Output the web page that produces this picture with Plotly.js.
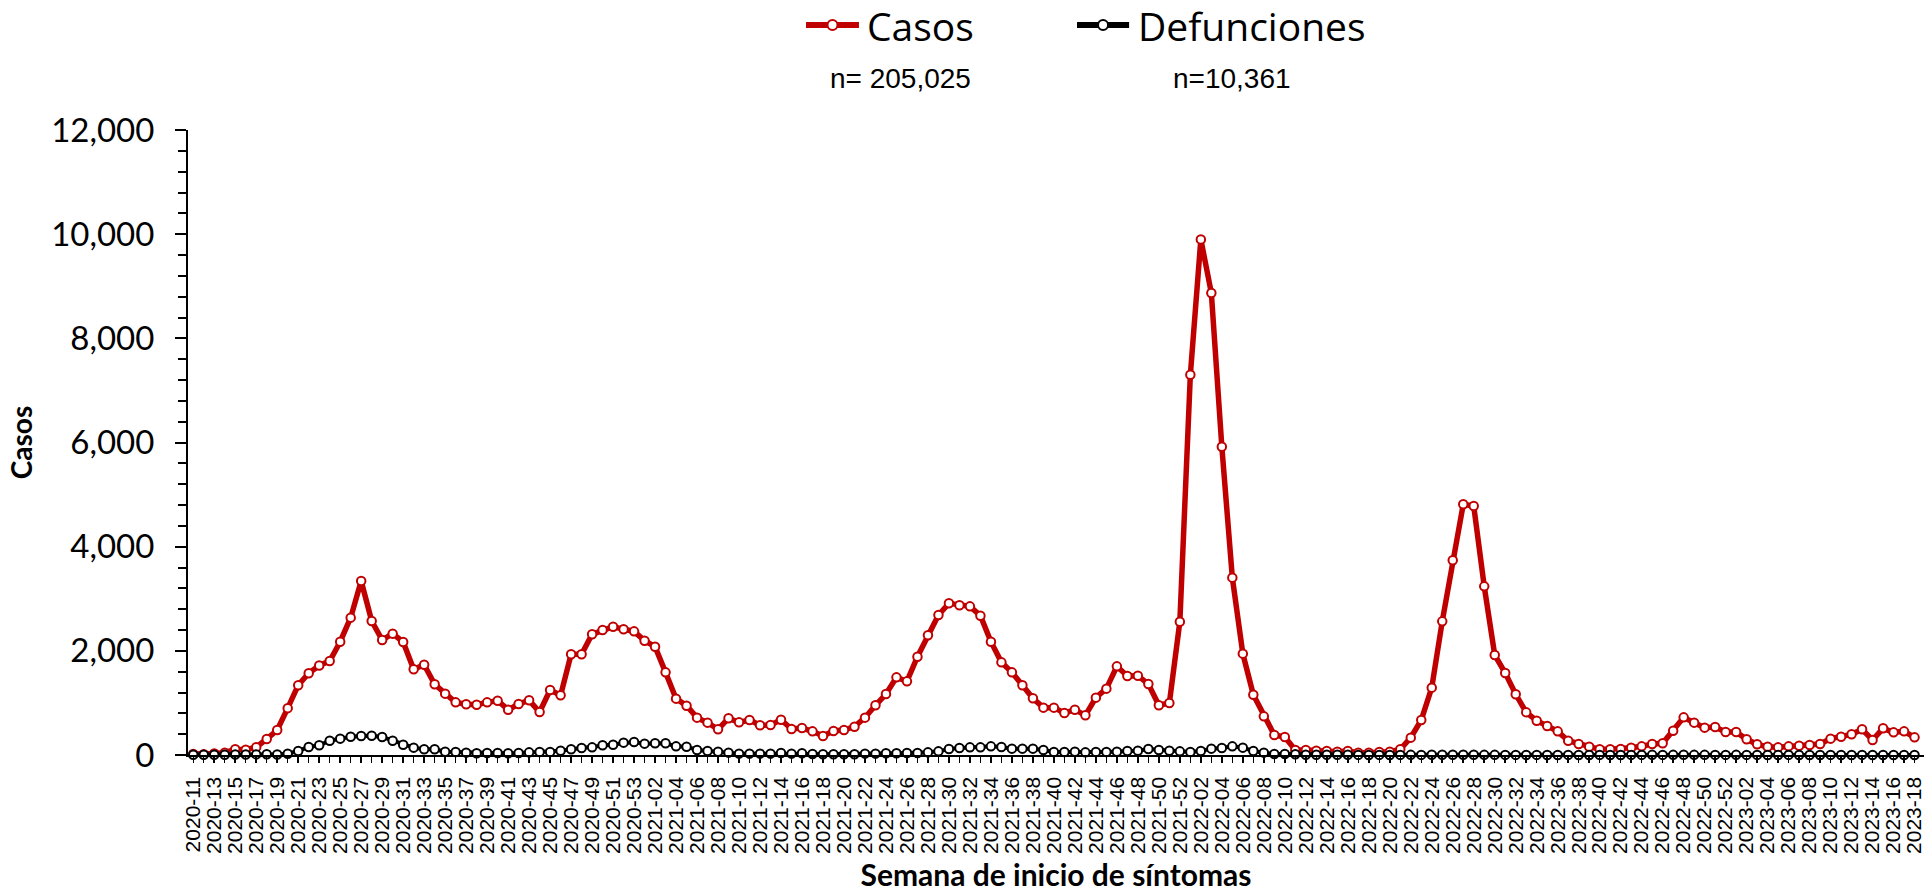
<!DOCTYPE html>
<html>
<head>
<meta charset="utf-8">
<script src="https://cdn.plot.ly/plotly-3.0.1.min.js"></script>
<style>html,body{margin:0;padding:0;background:#fff;}#chart{width:1924px;height:892px;}</style>
</head>
<body>
<div id="chart"></div>
<script>
const weeks = [
"2020-11","2020-12","2020-13","2020-14","2020-15","2020-16","2020-17","2020-18","2020-19","2020-20",
"2020-21","2020-22","2020-23","2020-24","2020-25","2020-26","2020-27","2020-28","2020-29","2020-30",
"2020-31","2020-32","2020-33","2020-34","2020-35","2020-36","2020-37","2020-38","2020-39","2020-40",
"2020-41","2020-42","2020-43","2020-44","2020-45","2020-46","2020-47","2020-48","2020-49","2020-50",
"2020-51","2020-52","2020-53",
"2021-01","2021-02","2021-03","2021-04","2021-05","2021-06","2021-07","2021-08","2021-09","2021-10",
"2021-11","2021-12","2021-13","2021-14","2021-15","2021-16","2021-17","2021-18","2021-19","2021-20",
"2021-21","2021-22","2021-23","2021-24","2021-25","2021-26","2021-27","2021-28","2021-29","2021-30",
"2021-31","2021-32","2021-33","2021-34","2021-35","2021-36","2021-37","2021-38","2021-39","2021-40",
"2021-41","2021-42","2021-43","2021-44","2021-45","2021-46","2021-47","2021-48","2021-49","2021-50",
"2021-51","2021-52",
"2022-01","2022-02","2022-03","2022-04","2022-05","2022-06","2022-07","2022-08","2022-09","2022-10",
"2022-11","2022-12","2022-13","2022-14","2022-15","2022-16","2022-17","2022-18","2022-19","2022-20",
"2022-21","2022-22","2022-23","2022-24","2022-25","2022-26","2022-27","2022-28","2022-29","2022-30",
"2022-31","2022-32","2022-33","2022-34","2022-35","2022-36","2022-37","2022-38","2022-39","2022-40",
"2022-41","2022-42","2022-43","2022-44","2022-45","2022-46","2022-47","2022-48","2022-49","2022-50",
"2022-51","2022-52",
"2023-01","2023-02","2023-03","2023-04","2023-05","2023-06","2023-07","2023-08","2023-09","2023-10",
"2023-11","2023-12","2023-13","2023-14","2023-15","2023-16","2023-17","2023-18"
];

const casos = [
20,15,30,45,110,100,150,307,480,900,
1340,1570,1720,1805,2175,2637,3340,2573,2208,2330,
2170,1645,1734,1357,1178,1011,973,966,1011,1043,
870,979,1050,826,1248,1146,1933,1933,2317,2400,
2464,2413,2374,
2195,2080,1587,1082,947,717,621,493,704,627,
672,570,576,678,499,518,454,365,461,480,
544,717,954,1171,1491,1414,1888,2298,2688,2912,
2874,2854,2675,2176,1779,1587,1338,1088,909,909,
806,870,762,1101,1274,1702,1517,1523,1363,954,
998,2560,
7300,9900,8870,5920,3405,1946,1158,742,384,346,
96,96,83,77,64,77,45,45,58,64,
109,333,672,1293,2566,3738,4813,4781,3238,1920,
1574,1165,819,659,557,454,275,211,160,109,
109,115,141,166,211,224,467,723,621,525,
538,442,
442,301,205,160,147,166,179,192,211,314,
352,397,493,288,512,435,454,339
];

const defunciones = [
5,5,5,5,8,10,12,15,10,25,
77,154,186,275,314,352,365,371,346,275,
198,141,109,109,64,58,45,32,38,38,
32,38,51,58,58,83,109,134,147,186,
198,237,250,
218,224,224,166,160,96,77,64,45,26,
26,26,26,38,26,32,20,13,13,13,
13,26,26,32,32,38,38,51,70,115,
134,147,147,166,154,122,122,122,96,58,
58,64,51,58,58,64,77,83,115,96,
83,70,
58,77,122,134,166,141,77,45,20,20,
13,5,5,5,5,5,2,1,2,1,
2,3,2,4,5,6,5,4,3,3,
2,2,1,2,1,1,2,1,1,2,
1,1,2,2,3,2,3,4,3,3,
2,2,
3,2,2,1,1,2,1,1,1,2,
1,1,2,1,1,1,1,1
];

const seriesNames = ["Casos", "Defunciones"];
const seriesColors = ["#C00000", "#000000"];
const totals = ["n= 205,025", "n=10,361"];
const yTickVals = [0, 2000, 4000, 6000, 8000, 10000, 12000];

const tickText = weeks.map((w, i) => (i % 2 === 0 ? w : ""));

const traces = [
  {
    x: weeks, y: casos, name: seriesNames[0], type: "scatter", mode: "lines+markers",
    cliponaxis: false, showlegend: false,
    line: {color: seriesColors[0], width: 5.5},
    marker: {symbol: "circle", size: 8.5, color: "#ffffff", line: {color: seriesColors[0], width: 2}}
  },
  {
    x: weeks, y: defunciones, name: seriesNames[1], type: "scatter", mode: "lines+markers",
    cliponaxis: false, showlegend: false,
    line: {color: seriesColors[1], width: 4},
    marker: {symbol: "circle", size: 8.5, color: "#ffffff", line: {color: seriesColors[1], width: 2}}
  }
];

/* custom legend (line + marker + label), positioned in paper coordinates */
const legY = 1.168;
const legItems = [
  {x0: 0.3560, x1: 0.3865, xt: 0.3900},
  {x0: 0.5121, x1: 0.5421, xt: 0.5460}
];
const shapes = [];
const annotations = [];
legItems.forEach((it, i) => {
  shapes.push({type: "line", xref: "paper", yref: "paper", x0: it.x0, x1: it.x1, y0: legY, y1: legY,
               line: {color: seriesColors[i], width: 6}});
  shapes.push({type: "circle", xref: "paper", yref: "paper", xsizemode: "pixel", ysizemode: "pixel",
               xanchor: (it.x0 + it.x1) / 2, yanchor: legY, x0: -5, x1: 5, y0: -5, y1: 5,
               fillcolor: "#ffffff", line: {color: seriesColors[i], width: 2}});
  annotations.push({text: seriesNames[i], xref: "paper", yref: "paper", x: it.xt, y: legY,
                    xanchor: "left", yanchor: "middle", showarrow: false,
                    font: {family: "Open Sans", size: 39, color: "#000000"}});
});
annotations.push({text: totals[0], xref: "paper", yref: "paper", x: 0.4107, y: 1.0832, xanchor: "center", yanchor: "middle",
  showarrow: false, font: {family: "Liberation Sans, Arial", size: 28, color: "#000000"}});
annotations.push({text: totals[1], xref: "paper", yref: "paper", x: 0.6014, y: 1.0832, xanchor: "center", yanchor: "middle",
  showarrow: false, font: {family: "Liberation Sans, Arial", size: 28, color: "#000000"}});

const layout = {
  width: 1924, height: 892, autosize: false,
  margin: {l: 188, r: 0, t: 130, b: 137, pad: 0},
  paper_bgcolor: "#ffffff", plot_bgcolor: "#ffffff",
  showlegend: false,
  xaxis: {
    type: "category", range: [-0.5, weeks.length - 0.1], automargin: false,
    tickmode: "array", tickvals: weeks, ticktext: tickText, tickangle: -90,
    tickfont: {family: "Liberation Sans, Arial", size: 21, color: "#000000"},
    ticks: "outside", ticklen: 6, tickwidth: 1.5, tickcolor: "#000000",
    ticklabelstandoff: 6,
    showline: true, linecolor: "#000000", linewidth: 1.5,
    showgrid: false, zeroline: false,
    title: {text: "<b>Semana de inicio de síntomas</b>", font: {family: "Lato", size: 30, color: "#000000"}, standoff: 12}
  },
  yaxis: {
    range: [0, 12000], automargin: false,
    tickmode: "array", tickvals: yTickVals, tickformat: ",",
    tickfont: {family: "Lato", size: 33, color: "#000000"},
    ticks: "outside", ticklen: 11, tickwidth: 2, tickcolor: "#000000",
    ticklabelstandoff: 14,
    minor: {dtick: 400, tick0: 0, ticks: "outside", ticklen: 8, tickwidth: 2, tickcolor: "#000000", showgrid: false},
    showline: true, linecolor: "#000000", linewidth: 2,
    showgrid: false, zeroline: false,
    title: {text: "<b>Casos</b>", font: {family: "Lato", size: 28, color: "#000000"}, standoff: 10}
  },
  shapes: shapes,
  annotations: annotations
};

Plotly.newPlot("chart", traces, layout, {displayModeBar: false, staticPlot: true});
</script>
</body>
</html>
